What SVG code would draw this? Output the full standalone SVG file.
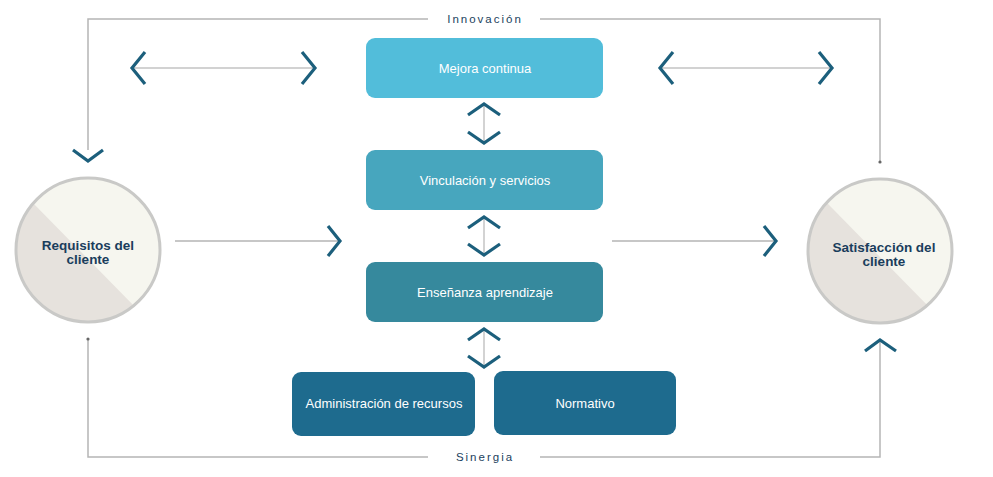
<svg xmlns="http://www.w3.org/2000/svg" width="993" height="477" viewBox="0 0 993 477">
<defs>
<style>
.box-t{font-family:"Liberation Sans","Open Sans",Arial,sans-serif;font-size:13px;fill:#ffffff;text-anchor:middle}
.circ-t{font-family:"Liberation Sans","Open Sans",Arial,sans-serif;font-size:13.5px;font-weight:bold;fill:#1a3d5c;text-anchor:middle}
.lbl{font-family:"Liberation Sans","Open Sans",Arial,sans-serif;font-size:11.5px;fill:#1b3f5e;letter-spacing:2px;text-anchor:middle}
.frame{fill:none;stroke:#b5b5b5;stroke-width:1.5}
.hl{fill:none;stroke:#d2d2d2;stroke-width:2}
.vl{fill:none;stroke:#c4c4c4;stroke-width:1.5}
.cl{fill:none;stroke:#b5b5b5;stroke-width:1.5}
.chev{fill:none;stroke:#1c5f7c;stroke-width:3.2;stroke-linejoin:miter}
.dot{fill:#666}
</style>
<clipPath id="cL"><circle cx="88" cy="250" r="72"/></clipPath>
<clipPath id="cR"><circle cx="880" cy="251" r="72"/></clipPath>
</defs>
<rect width="993" height="477" fill="#ffffff"/>

<g id="connectors">
  <!-- top frame: Innovación -->
  <polyline class="frame" points="88,150 88,19 428,19"/>
  <polyline class="frame" points="540,19 880,19 880,162"/>
  <circle class="dot" cx="880" cy="162" r="1.6"/>
  <polyline class="chev" points="73,150 88,161 103,150"/>
  <text class="lbl" x="485" y="23">Innovación</text>
  <!-- bottom frame: Sinergia -->
  <polyline class="frame" points="88,339 88,457 428,457"/>
  <polyline class="frame" points="540,457 880,457 880,341"/>
  <circle class="dot" cx="88" cy="339" r="1.6"/>
  <polyline class="chev" points="865,351 880,340 896,351"/>
  <text class="lbl" x="485" y="461">Sinergia</text>
  <!-- top horizontal double arrows -->
  <line class="hl" x1="134" y1="68" x2="313" y2="68"/>
  <polyline class="chev" points="145,52 132,68 145,84"/>
  <polyline class="chev" points="302,52 315,68 302,84"/>
  <line class="hl" x1="661" y1="68" x2="831" y2="68"/>
  <polyline class="chev" points="673,52 660,68 673,84"/>
  <polyline class="chev" points="819,52 832,68 819,84"/>
  <!-- vertical double arrows -->
  <line class="vl" x1="484" y1="104" x2="484" y2="142"/>
  <polyline class="chev" points="468,115 484,104 500,115"/>
  <polyline class="chev" points="468,132 484,143 500,132"/>
  <line class="vl" x1="484" y1="217" x2="484" y2="255"/>
  <polyline class="chev" points="468,228 484,217 500,228"/>
  <polyline class="chev" points="468,244 484,255 500,244"/>
  <line class="vl" x1="484" y1="329" x2="484" y2="367"/>
  <polyline class="chev" points="468,340 484,329 500,340"/>
  <polyline class="chev" points="468,356 484,367 500,356"/>
  <!-- arrows toward circles -->
  <line class="cl" x1="175" y1="241" x2="339" y2="241"/>
  <polyline class="chev" points="328,226 340,241 328,256"/>
  <line class="cl" x1="612" y1="241" x2="776" y2="241"/>
  <polyline class="chev" points="764,226 776,241 764,256"/>
</g>

<g id="requisitos">
  <g clip-path="url(#cL)">
    <rect x="10" y="170" width="160" height="160" fill="#e6e2dd"/>
    <polygon points="-19,150 250,150 250,420 246,420" fill="#f6f6ef"/>
  </g>
  <circle cx="88" cy="250" r="72" fill="none" stroke="#c9c9c7" stroke-width="3"/>
  <text class="circ-t" x="88" y="250">Requisitos del</text>
  <text class="circ-t" x="88" y="264">cliente</text>
</g>

<g id="satisfaccion">
  <g clip-path="url(#cR)">
    <rect x="800" y="170" width="160" height="165" fill="#e6e2dd"/>
    <polygon points="775,150 1100,150 1100,420 1040,420" fill="#f6f6ef"/>
  </g>
  <circle cx="880" cy="251" r="72" fill="none" stroke="#c9c9c7" stroke-width="3"/>
  <text class="circ-t" x="884" y="252">Satisfacción del</text>
  <text class="circ-t" x="884" y="266">cliente</text>
</g>

<g id="mejora">
  <rect x="366" y="38" width="237" height="60" rx="9" fill="#52bdda"/>
  <text class="box-t" x="485" y="73">Mejora continua</text>
</g>
<g id="vinculacion">
  <rect x="366" y="150" width="237" height="60" rx="9" fill="#47a6be"/>
  <text class="box-t" x="485" y="185">Vinculación y servicios</text>
</g>
<g id="ensenanza">
  <rect x="366" y="262" width="237" height="60" rx="9" fill="#36899d"/>
  <text class="box-t" x="485" y="297">Enseñanza aprendizaje</text>
</g>
<g id="administracion">
  <rect x="292" y="372" width="183" height="64" rx="9" fill="#1e6b8e"/>
  <text class="box-t" x="384" y="408">Administración de recursos</text>
</g>
<g id="normativo">
  <rect x="494" y="371" width="182" height="64" rx="9" fill="#1e6b8e"/>
  <text class="box-t" x="585" y="408">Normativo</text>
</g>
</svg>
